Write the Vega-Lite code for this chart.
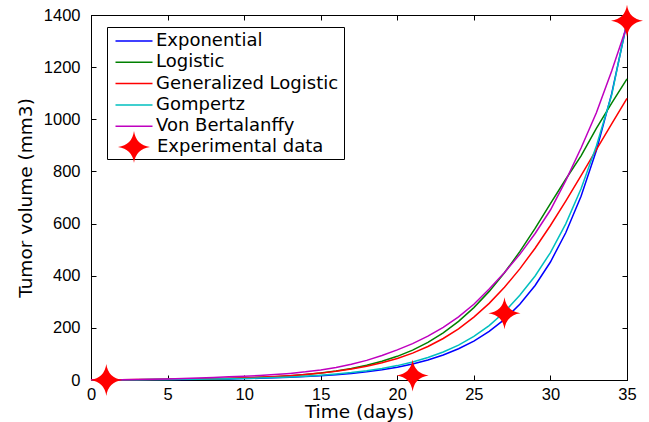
{
 "$schema": "https://vega.github.io/schema/vega-lite/v6.json",
 "width": 536,
 "height": 365,
 "autosize": "none",
 "padding": {"left": 91, "top": 15, "right": 22, "bottom": 42},
 "background": "white",
 "config": {
  "view": {"stroke": "black", "strokeWidth": 1},
  "axis": {
   "grid": false,
   "domainColor": "black",
   "tickColor": "black",
   "labelColor": "black",
   "titleColor": "black",
   "labelFont": "Liberation Sans",
   "labelFontSize": 16.5,
   "titleFont": "DejaVu Sans",
   "titleFontSize": 18.5,
   "titleFontWeight": "normal",
   "tickSize": -5,
   "labelFlush": false,
   "labelOverlap": false,
   "format": "d"
  }
 },
 "datasets": {
  "models": [
   {"t":0,"v":0.59,"series":"Exponential"},{"t":1,"v":0.73,"series":"Exponential"},{"t":2,"v":0.91,"series":"Exponential"},{"t":3,"v":1.14,"series":"Exponential"},{"t":4,"v":1.42,"series":"Exponential"},{"t":5,"v":1.77,"series":"Exponential"},{"t":6,"v":2.21,"series":"Exponential"},{"t":7,"v":2.76,"series":"Exponential"},{"t":8,"v":3.45,"series":"Exponential"},{"t":9,"v":4.3,"series":"Exponential"},{"t":10,"v":5.37,"series":"Exponential"},{"t":11,"v":6.7,"series":"Exponential"},{"t":12,"v":8.37,"series":"Exponential"},{"t":13,"v":10.44,"series":"Exponential"},{"t":14,"v":13.03,"series":"Exponential"},{"t":15,"v":16.27,"series":"Exponential"},{"t":16,"v":20.31,"series":"Exponential"},{"t":17,"v":25.35,"series":"Exponential"},{"t":18,"v":31.64,"series":"Exponential"},{"t":19,"v":39.49,"series":"Exponential"},{"t":20,"v":49.29,"series":"Exponential"},{"t":21,"v":61.53,"series":"Exponential"},{"t":22,"v":76.8,"series":"Exponential"},{"t":23,"v":95.86,"series":"Exponential"},{"t":24,"v":119.7,"series":"Exponential"},{"t":25,"v":149.4,"series":"Exponential"},{"t":26,"v":186.4,"series":"Exponential"},{"t":27,"v":232.7,"series":"Exponential"},{"t":28,"v":290.5,"series":"Exponential"},{"t":29,"v":362.6,"series":"Exponential"},{"t":30,"v":452.6,"series":"Exponential"},{"t":31,"v":564.9,"series":"Exponential"},{"t":32,"v":705.1,"series":"Exponential"},{"t":33,"v":880.2,"series":"Exponential"},{"t":34,"v":1098.6,"series":"Exponential"},{"t":35,"v":1371.3,"series":"Exponential"},
   {"t":0,"v":0.65,"series":"Logistic"},{"t":1,"v":0.83,"series":"Logistic"},{"t":2,"v":1.07,"series":"Logistic"},{"t":3,"v":1.37,"series":"Logistic"},{"t":4,"v":1.76,"series":"Logistic"},{"t":5,"v":2.26,"series":"Logistic"},{"t":6,"v":2.9,"series":"Logistic"},{"t":7,"v":3.73,"series":"Logistic"},{"t":8,"v":4.78,"series":"Logistic"},{"t":9,"v":6.13,"series":"Logistic"},{"t":10,"v":7.87,"series":"Logistic"},{"t":11,"v":10.09,"series":"Logistic"},{"t":12,"v":12.92,"series":"Logistic"},{"t":13,"v":16.56,"series":"Logistic"},{"t":14,"v":21.2,"series":"Logistic"},{"t":15,"v":27.12,"series":"Logistic"},{"t":16,"v":34.65,"series":"Logistic"},{"t":17,"v":44.22,"series":"Logistic"},{"t":18,"v":56.34,"series":"Logistic"},{"t":19,"v":71.62,"series":"Logistic"},{"t":20,"v":90.81,"series":"Logistic"},{"t":21,"v":114.8,"series":"Logistic"},{"t":22,"v":144.4,"series":"Logistic"},{"t":23,"v":180.8,"series":"Logistic"},{"t":24,"v":224.9,"series":"Logistic"},{"t":25,"v":277.7,"series":"Logistic"},{"t":26,"v":339.9,"series":"Logistic"},{"t":27,"v":411.4,"series":"Logistic"},{"t":28,"v":492.3,"series":"Logistic"},{"t":29,"v":581.4,"series":"Logistic"},{"t":30,"v":676.5,"series":"Logistic"},{"t":31,"v":770,"series":"Logistic"},{"t":32,"v":860,"series":"Logistic"},{"t":33,"v":965,"series":"Logistic"},{"t":34,"v":1062,"series":"Logistic"},{"t":35,"v":1155,"series":"Logistic"},
   {"t":0,"v":0.79,"series":"Generalized Logistic"},{"t":1,"v":1.0,"series":"Generalized Logistic"},{"t":2,"v":1.26,"series":"Generalized Logistic"},{"t":3,"v":1.6,"series":"Generalized Logistic"},{"t":4,"v":2.02,"series":"Generalized Logistic"},{"t":5,"v":2.55,"series":"Generalized Logistic"},{"t":6,"v":3.23,"series":"Generalized Logistic"},{"t":7,"v":4.08,"series":"Generalized Logistic"},{"t":8,"v":5.16,"series":"Generalized Logistic"},{"t":9,"v":6.52,"series":"Generalized Logistic"},{"t":10,"v":8.24,"series":"Generalized Logistic"},{"t":11,"v":10.4,"series":"Generalized Logistic"},{"t":12,"v":13.14,"series":"Generalized Logistic"},{"t":13,"v":16.59,"series":"Generalized Logistic"},{"t":14,"v":20.93,"series":"Generalized Logistic"},{"t":15,"v":26.39,"series":"Generalized Logistic"},{"t":16,"v":33.24,"series":"Generalized Logistic"},{"t":17,"v":41.83,"series":"Generalized Logistic"},{"t":18,"v":52.57,"series":"Generalized Logistic"},{"t":19,"v":65.94,"series":"Generalized Logistic"},{"t":20,"v":82.56,"series":"Generalized Logistic"},{"t":21,"v":103.1,"series":"Generalized Logistic"},{"t":22,"v":128.4,"series":"Generalized Logistic"},{"t":23,"v":159.2,"series":"Generalized Logistic"},{"t":24,"v":196.5,"series":"Generalized Logistic"},{"t":25,"v":241.2,"series":"Generalized Logistic"},{"t":26,"v":294.0,"series":"Generalized Logistic"},{"t":27,"v":355.6,"series":"Generalized Logistic"},{"t":28,"v":426.2,"series":"Generalized Logistic"},{"t":29,"v":505.5,"series":"Generalized Logistic"},{"t":30,"v":592.7,"series":"Generalized Logistic"},{"t":31,"v":686.3,"series":"Generalized Logistic"},{"t":32,"v":784.1,"series":"Generalized Logistic"},{"t":33,"v":884.0,"series":"Generalized Logistic"},{"t":34,"v":982.8,"series":"Generalized Logistic"},{"t":35,"v":1080,"series":"Generalized Logistic"},
   {"t":0,"v":0.66,"series":"Gompertz"},{"t":1,"v":0.82,"series":"Gompertz"},{"t":2,"v":1.02,"series":"Gompertz"},{"t":3,"v":1.27,"series":"Gompertz"},{"t":4,"v":1.59,"series":"Gompertz"},{"t":5,"v":1.98,"series":"Gompertz"},{"t":6,"v":2.48,"series":"Gompertz"},{"t":7,"v":3.09,"series":"Gompertz"},{"t":8,"v":3.86,"series":"Gompertz"},{"t":9,"v":4.82,"series":"Gompertz"},{"t":10,"v":6.01,"series":"Gompertz"},{"t":11,"v":7.5,"series":"Gompertz"},{"t":12,"v":9.37,"series":"Gompertz"},{"t":13,"v":11.69,"series":"Gompertz"},{"t":14,"v":14.59,"series":"Gompertz"},{"t":15,"v":18.22,"series":"Gompertz"},{"t":16,"v":22.75,"series":"Gompertz"},{"t":17,"v":28.39,"series":"Gompertz"},{"t":18,"v":35.44,"series":"Gompertz"},{"t":19,"v":44.23,"series":"Gompertz"},{"t":20,"v":55.2,"series":"Gompertz"},{"t":21,"v":68.91,"series":"Gompertz"},{"t":22,"v":86.02,"series":"Gompertz"},{"t":23,"v":107.4,"series":"Gompertz"},{"t":24,"v":134.0,"series":"Gompertz"},{"t":25,"v":167.3,"series":"Gompertz"},{"t":26,"v":208.8,"series":"Gompertz"},{"t":27,"v":260.6,"series":"Gompertz"},{"t":28,"v":325.4,"series":"Gompertz"},{"t":29,"v":398.9,"series":"Gompertz"},{"t":30,"v":488.8,"series":"Gompertz"},{"t":31,"v":598.8,"series":"Gompertz"},{"t":32,"v":733.3,"series":"Gompertz"},{"t":33,"v":897.8,"series":"Gompertz"},{"t":34,"v":1093,"series":"Gompertz"},{"t":35,"v":1376,"series":"Gompertz"},
   {"t":0,"v":0.5,"series":"Von Bertalanffy"},{"t":1,"v":0.9,"series":"Von Bertalanffy"},{"t":2,"v":1.4,"series":"Von Bertalanffy"},{"t":3,"v":2.1,"series":"Von Bertalanffy"},{"t":4,"v":3.1,"series":"Von Bertalanffy"},{"t":5,"v":4.3,"series":"Von Bertalanffy"},{"t":6,"v":5.8,"series":"Von Bertalanffy"},{"t":7,"v":7.6,"series":"Von Bertalanffy"},{"t":8,"v":9.6,"series":"Von Bertalanffy"},{"t":9,"v":12.0,"series":"Von Bertalanffy"},{"t":10,"v":14.6,"series":"Von Bertalanffy"},{"t":11,"v":17.3,"series":"Von Bertalanffy"},{"t":12,"v":20.8,"series":"Von Bertalanffy"},{"t":13,"v":25.4,"series":"Von Bertalanffy"},{"t":14,"v":31.2,"series":"Von Bertalanffy"},{"t":15,"v":38.7,"series":"Von Bertalanffy"},{"t":16,"v":48.2,"series":"Von Bertalanffy"},{"t":17,"v":60.2,"series":"Von Bertalanffy"},{"t":18,"v":75.3,"series":"Von Bertalanffy"},{"t":19,"v":93.8,"series":"Von Bertalanffy"},{"t":20,"v":115.7,"series":"Von Bertalanffy"},{"t":21,"v":139.5,"series":"Von Bertalanffy"},{"t":22,"v":168.2,"series":"Von Bertalanffy"},{"t":23,"v":202.2,"series":"Von Bertalanffy"},{"t":24,"v":242.1,"series":"Von Bertalanffy"},{"t":25,"v":290.6,"series":"Von Bertalanffy"},{"t":26,"v":348.7,"series":"Von Bertalanffy"},{"t":27,"v":412,"series":"Von Bertalanffy"},{"t":28,"v":482,"series":"Von Bertalanffy"},{"t":29,"v":562,"series":"Von Bertalanffy"},{"t":30,"v":652,"series":"Von Bertalanffy"},{"t":31,"v":765,"series":"Von Bertalanffy"},{"t":32,"v":890,"series":"Von Bertalanffy"},{"t":33,"v":1025,"series":"Von Bertalanffy"},{"t":34,"v":1185,"series":"Von Bertalanffy"},{"t":35,"v":1360,"series":"Von Bertalanffy"}
  ],
  "exp": [
   {"t":1,"v":0,"series":"Experimental data"},
   {"t":21,"v":17,"series":"Experimental data"},
   {"t":27,"v":256,"series":"Experimental data"},
   {"t":35,"v":1378,"series":"Experimental data"}
  ]
 },
 "layer": [
  {
   "data": {"name": "models"},
   "mark": {"type": "line", "strokeWidth": 1.5},
   "encoding": {
    "x": {"field": "t", "type": "quantitative", "scale": {"domain": [0, 35], "nice": false, "zero": false},
          "axis": {"title": "Time (days)", "values": [0,5,10,15,20,25,30,35], "labelPadding": 11, "titlePadding": 0}},
    "y": {"field": "v", "type": "quantitative", "scale": {"domain": [0, 1400], "nice": false},
          "axis": {"title": "Tumor volume (mm3)", "values": [0,200,400,600,800,1000,1200,1400], "labelPadding": 16, "titlePadding": 8}},
    "color": {
     "field": "series", "type": "nominal",
     "scale": {
      "domain": ["Exponential","Logistic","Generalized Logistic","Gompertz","Von Bertalanffy"],
      "range": ["#0000FF","#008000","#FF0000","#00BFBF","#BF00BF"]
     },
     "legend": {
      "title": " ",
      "titleOrient": "bottom",
      "titleFontSize": 15,
      "titlePadding": 3.3,
      "orient": "none",
      "legendX": 16,
      "legendY": 12,
      "strokeColor": "black",
      "padding": 5,
      "cornerRadius": 0,
      "labelFont": "DejaVu Sans",
      "labelFontSize": 18,
      "labelColor": "black",
      "labelLimit": 400,
      "symbolType": "stroke",
      "symbolSize": 1369,
      "symbolStrokeWidth": 1.5,
      "clipHeight": 18,
      "rowPadding": 3.3,
      "labelOffset": 5,
      "encode": {
       "symbols": {
        "update": {
         "xc": {"value": 22}
        }
       }
      }
     }
    }
   }
  },
  {
   "data": {"name": "exp"},
   "mark": {"type": "point", "size": 1024, "filled": true, "opacity": 1, "strokeWidth": 0, "color": "#FF0000"},
   "encoding": {
    "x": {"field": "t", "type": "quantitative", "scale": {"domain": [0, 35], "nice": false, "zero": false},
          "axis": {"orient": "top", "labels": false, "title": null, "values": [0,5,10,15,20,25,30,35]}},
    "y": {"field": "v", "type": "quantitative", "scale": {"domain": [0, 1400], "nice": false},
          "axis": {"orient": "right", "labels": false, "title": null, "values": [0,200,400,600,800,1000,1200,1400]}},
    "shape": {
     "field": "series", "type": "nominal",
     "scale": {"domain": ["Experimental data"], "range": ["M0,-1Q0.12,-0.12,1,0Q0.12,0.12,0,1Q-0.12,0.12,-1,0Q-0.12,-0.12,0,-1Z"]},
     "legend": {
      "title": null,
      "orient": "none",
      "legendX": 27,
      "legendY": 116,
      "padding": 0,
      "symbolSize": 1024,
      "symbolFillColor": "#FF0000",
      "symbolStrokeColor": "#FF0000",
      "symbolStrokeWidth": 0,
      "symbolOpacity": 1,
      "labelFont": "DejaVu Sans",
      "labelFontSize": 18,
      "labelColor": "black",
      "labelLimit": 400,
      "labelOffset": 7
     }
    }
   }
  }
 ],
 "resolve": {"axis": {"x": "independent", "y": "independent"}}
}
